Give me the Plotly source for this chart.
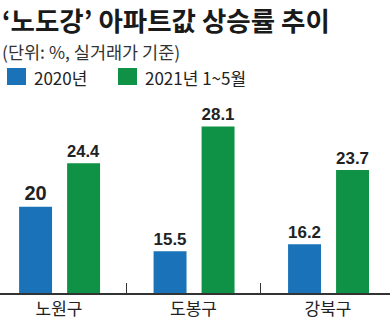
import plotly.graph_objects as go

# ---- data ----
districts = ["노원구", "도봉구", "강북구"]
series_names = ["2020년", "2021년 1~5월"]
values_2020 = [20, 15.5, 16.2]
values_2021 = [24.4, 28.1, 23.7]
title_text = "‘노도강’ 아파트값 상승률 추이"
subtitle_text = "(단위: %, 실거래가 기준)"

# ---- style ----
BLUE = "#1a73b9"
GREEN = "#0f9246"
W, H = 390, 324
MT, MB = 100, 31
plot_h = H - MT - MB
KR = "Noto Sans CJK KR"
NUM = "Liberation Sans Narrow, Arial Narrow, Liberation Sans, sans-serif"

def py(pix):  # pixel y -> paper y
    return (H - MB - pix) / plot_h

def px(pix):
    return pix / W

fig = go.Figure()
for name, vals, col, off in [(series_names[0], values_2020, BLUE, -0.297),
                             (series_names[1], values_2021, GREEN, 0.06)]:
    fig.add_trace(go.Bar(
        x=districts, y=vals, name=name, marker=dict(color=col, line=dict(width=0)),
        width=0.245, offset=off,
        text=[f"{v:g}" for v in vals], textposition="outside",
        textfont=dict(family=NUM, size=20, color="#222222"),
        texttemplate="<b>%{text}</b>", cliponaxis=False, showlegend=False,
    ))

# manual legend
leg_x = [7, 118]
txt_x = [32, 143]
for i, name in enumerate(series_names):
    col = [BLUE, GREEN][i]
    fig.add_shape(type="rect", xref="paper", yref="paper",
                  x0=px(leg_x[i]), x1=px(leg_x[i] + 19), y0=py(85), y1=py(68),
                  fillcolor=col, line=dict(width=0))
    fig.add_annotation(x=px(txt_x[i]), y=py(77), xref="paper", yref="paper",
                       text=name, showarrow=False, xanchor="left", yanchor="middle",
                       font=dict(family=KR, size=17, color="#222222"))

fig.add_annotation(x=px(0), y=py(19), xref="paper", yref="paper", text=f"<b>{title_text}</b>",
                   showarrow=False, xanchor="left", yanchor="middle",
                   font=dict(family=KR, size=26.5, color="#1a1a1a"))
fig.add_annotation(x=px(0), y=py(51), xref="paper", yref="paper", text=subtitle_text,
                   showarrow=False, xanchor="left", yanchor="middle",
                   font=dict(family=KR, size=17.5, color="#333333"))

fig.update_layout(
    width=W, height=H, margin=dict(l=0, r=0, t=MT, b=MB),
    paper_bgcolor="white", plot_bgcolor="white",
    xaxis=dict(type="category", range=[-0.439, 2.461], showline=True, linecolor="#333333",
               linewidth=1.5, ticks="inside", tickson="boundaries", ticklen=10,
               tickcolor="#333333", tickwidth=1.2, showgrid=False, zeroline=False,
               tickfont=dict(family=KR, size=17, color="#222222")),
    yaxis=dict(range=[11.28, 30.78], visible=False, showgrid=False, zeroline=False),
)

fig.write_html("out.html")
